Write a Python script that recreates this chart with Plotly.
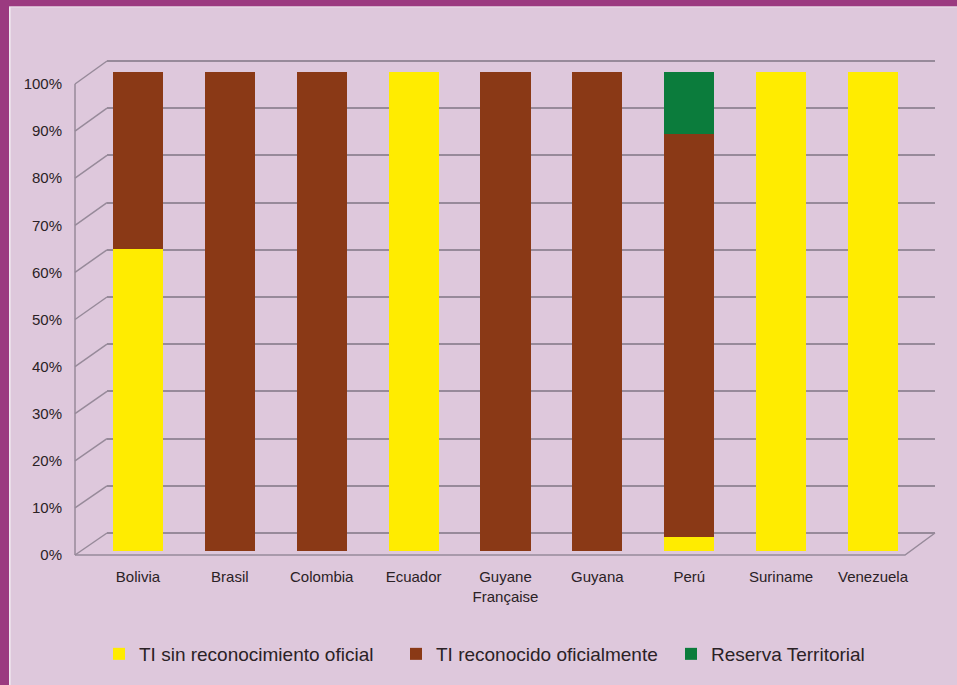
import plotly.graph_objects as go

# ---------------- data ----------------
countries = ["Bolivia", "Brasil", "Colombia", "Ecuador", "Guyane<br>Française",
             "Guyana", "Perú", "Suriname", "Venezuela"]
sin_reconocimiento = [63, 0, 0, 100, 0, 0, 3, 100, 100]
reconocido = [37, 100, 100, 0, 100, 100, 84, 0, 0]
reserva = [0, 0, 0, 0, 0, 0, 13, 0, 0]
series_names = ["TI sin reconocimiento oficial", "TI reconocido oficialmente", "Reserva Territorial"]
tick_values = list(range(0, 101, 10))
tick_labels = [f"{v}%" for v in tick_values]

# ---------------- styling ----------------
W, H = 957, 685
L, R, T, B = 107, 935, 54, 560   # plot-area pixel box
FONT = "Liberation Sans, Arial, sans-serif"
TXT = "#2b2226"
BG = "#DEC8DC"
PURPLE = "#9B3A80"
GRID = "#978A9A"
COLORS = ["#FFEC00", "#8A3916", "#0B7C3C"]


def px(x):
    return (x - L) / (R - L)


def py(y):
    return (B - y) / (B - T)


fig = go.Figure()
# empty helper trace so the back-wall grid axis (first subplot, drawn underneath) exists
fig.add_trace(go.Scatter(x=[], y=[], xaxis="x", yaxis="y", showlegend=False, hoverinfo="skip"))
legends = ["legend", "legend2", "legend3"]
for name, vals, col, lg in zip(series_names, [sin_reconocimiento, reconocido, reserva], COLORS, legends):
    fig.add_trace(go.Bar(x=countries, y=vals, name=name, marker=dict(color=col, line=dict(width=0)),
                         width=0.545, xaxis="x", yaxis="y2", legend=lg))
fig.add_trace(go.Scatter(x=[], y=[], xaxis="x", yaxis="y3", showlegend=False, hoverinfo="skip"))

# front axis scale (labels) and back-wall scale (grid)
front0, front100 = 555, 84
back0, back100 = 533, 61
fs = (front0 - front100) / 100.0
bs = (back0 - back100) / 100.0
r0 = -(B - front0) / fs
r1 = r0 + (B - T) / fs
gpad = 1.0  # grid range padding so 0 % and 100 % lines are drawn

shapes = []
# purple frame
shapes.append(dict(type="rect", xref="paper", yref="paper", x0=px(-5), x1=px(9), y0=py(-5), y1=py(H + 5),
                   fillcolor=PURPLE, line=dict(width=0), layer="below"))
shapes.append(dict(type="rect", xref="paper", yref="paper", x0=px(-5), x1=px(W + 5), y0=py(6.5), y1=py(-5),
                   fillcolor=PURPLE, line=dict(width=0), layer="below"))
shapes.append(dict(type="line", xref="paper", yref="paper", x0=px(9.8), x1=px(9.8), y0=py(7), y1=py(H + 5),
                   line=dict(color="#F3ECF2", width=1.5)))
shapes.append(dict(type="line", xref="paper", yref="paper", x0=px(9), x1=px(W + 5), y0=py(7), y1=py(7),
                   line=dict(color="#E9DDE8", width=1)))
# front left axis line
shapes.append(dict(type="line", xref="paper", yref="paper", x0=px(75), x1=px(75), y0=py(front0), y1=py(front100),
                   line=dict(color=GRID, width=1.5), layer="below"))
# depth stubs from front axis to back wall
for v in tick_values:
    shapes.append(dict(type="line", xref="paper", yref="paper",
                       x0=px(75), y0=py(front0 - fs * v), x1=px(L), y1=py(back0 - bs * v),
                       line=dict(color=GRID, width=1.5), layer="below"))
# floor front edge
shapes.append(dict(type="path", xref="paper", yref="paper",
                   path=f"M{px(75)},{py(front0)} L{px(905)},{py(front0)} L{px(R)},{py(back0)}",
                   line=dict(color=GRID, width=1.5), layer="below"))

leg_common = dict(orientation="h", yanchor="middle", y=py(654), xanchor="left",
                  bgcolor="rgba(0,0,0,0)", font=dict(size=19, family=FONT, color=TXT), itemwidth=30)

fig.update_layout(
    width=W, height=H,
    margin=dict(l=L, r=W - R, t=T, b=H - B, pad=0),
    paper_bgcolor=BG, plot_bgcolor="rgba(0,0,0,0)",
    barmode="stack",
    font=dict(family=FONT, color=TXT, size=15),
    xaxis=dict(domain=[0, 1], range=[-0.337, 8.675], anchor="y2", showgrid=False, showline=False,
               zeroline=False, ticks="outside", ticklen=12, tickcolor="rgba(0,0,0,0)",
               tickfont=dict(size=15, family=FONT, color=TXT)),
    yaxis=dict(domain=[py(back0 + bs * gpad), py(back100 - bs * gpad)], range=[-gpad, 100 + gpad],
               anchor="x", showgrid=True, gridcolor=GRID, gridwidth=1.5, tickvals=tick_values,
               showticklabels=False, zeroline=False, showline=False, ticks=""),
    yaxis2=dict(domain=[py(551), py(72)], range=[0, 100], visible=False, anchor="x"),
    yaxis3=dict(domain=[0, 1], range=[r0, r1], anchor="x", showgrid=False, zeroline=False,
                showline=False, tickvals=tick_values, ticktext=tick_labels, ticks="outside",
                ticklen=41, tickcolor="rgba(0,0,0,0)", tickfont=dict(size=15, family=FONT, color=TXT)),
    legend=dict(x=px(99), **leg_common),
    legend2=dict(x=px(396), **leg_common),
    legend3=dict(x=px(671), **leg_common),
    shapes=shapes,
    showlegend=True,
)

fig.write_html("out.html")
